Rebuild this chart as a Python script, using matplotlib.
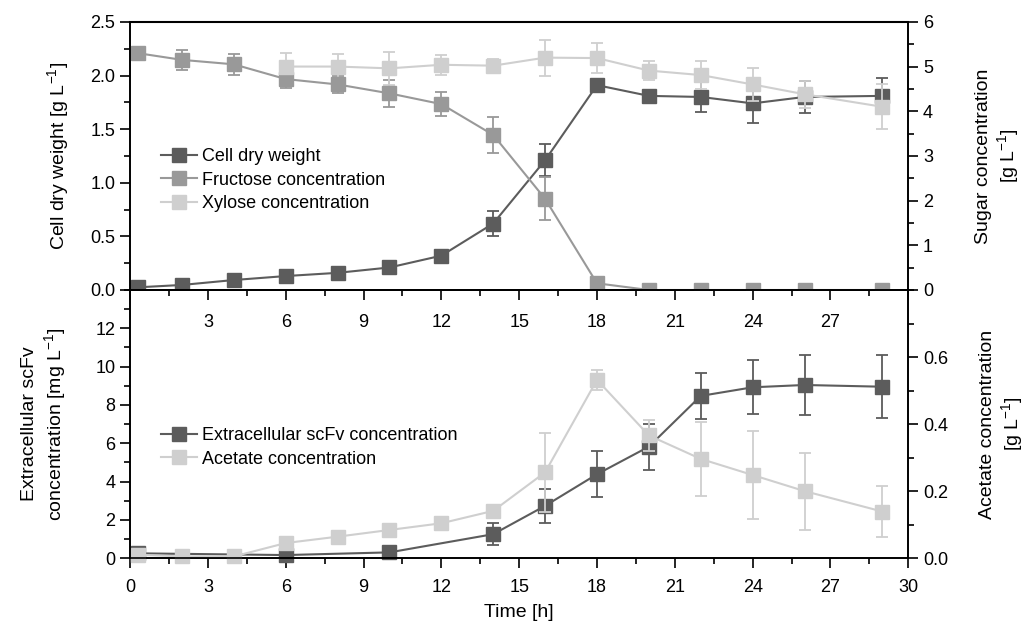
import numpy as np
import matplotlib
matplotlib.use('Agg')
import matplotlib.pyplot as plt
from matplotlib.ticker import MultipleLocator, FixedLocator
from matplotlib.lines import Line2D

plt.rcParams['font.family'] = ['Liberation Sans', 'DejaVu Sans']
plt.rcParams['font.size'] = 13
plt.rcParams['mathtext.fontset'] = 'custom'
plt.rcParams['mathtext.rm'] = 'Liberation Sans'
plt.rcParams['mathtext.default'] = 'regular'

# top panel data
t_top = [0.3, 2, 4, 6, 8, 10, 12, 14, 16, 18, 20, 22, 24, 26, 29]
cdw = [0.025, 0.047, 0.093, 0.13, 0.16, 0.21, 0.32, 0.62, 1.21, 1.91, 1.81, 1.80, 1.74, 1.80, 1.81]
cdw_err = [0.01, 0.01, 0.01, 0.01, 0.01, 0.01, 0.01, 0.12, 0.15, 0.05, 0.05, 0.14, 0.18, 0.15, 0.17]
fructose = [5.30, 5.15, 5.05, 4.72, 4.60, 4.40, 4.16, 3.47, 2.04, 0.15, 0, 0, 0, 0, 0]
fructose_err = [0.02, 0.23, 0.24, 0.2, 0.2, 0.3, 0.27, 0.4, 0.48, 0.06, 0, 0, 0, 0, 0]
t_xyl = [6, 8, 10, 12, 14, 16, 18, 20, 22, 24, 26, 29]
xylose = [5.0, 5.0, 4.96, 5.04, 5.02, 5.2, 5.19, 4.91, 4.81, 4.6, 4.38, 4.1]
xylose_err = [0.3, 0.27, 0.37, 0.22, 0.15, 0.4, 0.33, 0.22, 0.32, 0.36, 0.3, 0.5]

# bottom panel data
t_scfv = [0.3, 6, 10, 14, 16, 18, 20, 22, 24, 26, 29]
scfv = [0.25, 0.16, 0.3, 1.25, 2.73, 4.38, 5.82, 8.47, 8.92, 9.04, 8.95]
scfv_err = [0, 0, 0, 0.57, 0.9, 1.2, 1.2, 1.2, 1.4, 1.56, 1.65]
t_ace = [0.3, 2, 4, 6, 8, 10, 12, 14, 16, 18, 20, 22, 24, 26, 29]
acetate = [0.01, 0.005, 0.005, 0.045, 0.064, 0.084, 0.104, 0.141, 0.256, 0.532, 0.366, 0.296, 0.248, 0.20, 0.139]
acetate_err = [0, 0, 0, 0, 0, 0, 0, 0, 0.117, 0.03, 0.045, 0.11, 0.13, 0.115, 0.075]

dark = '#5c5c5c'
mid = '#999999'
light = '#cfcfcf'

style = dict(marker='s', markersize=10, linewidth=1.5, capsize=4, elinewidth=1.3, capthick=1.3)

fig = plt.figure(figsize=(10.24, 6.25), dpi=100)
ax1 = fig.add_axes([0.127, 0.536, 0.76, 0.429])
ax2 = fig.add_axes([0.127, 0.107, 0.76, 0.429])
ax1r = ax1.twinx()
ax2r = ax2.twinx()

ax1.errorbar(t_top, cdw, yerr=cdw_err, color=dark, **style)
ax1r.errorbar(t_top, fructose, yerr=fructose_err, color=mid, **style)
ax1r.errorbar(t_xyl, xylose, yerr=xylose_err, color=light, **style)

h4 = ax2.errorbar(t_scfv, scfv, yerr=scfv_err, color=dark, **style)
h5 = ax2r.errorbar(t_ace, acetate, yerr=acetate_err, color=light, **style)

for ax in (ax1, ax2, ax1r, ax2r):
    ax.set_xlim(0, 30)
    for s in ax.spines.values():
        s.set_linewidth(1.2)
    ax.tick_params(which='major', length=7, width=1.2, direction='out')
    ax.tick_params(which='minor', length=4, width=1.2, direction='out')

lab = dict(fontsize=14)

# top panel axes
ax1.set_ylim(0, 2.5)
ax1.yaxis.set_major_locator(MultipleLocator(0.5))
ax1.yaxis.set_minor_locator(MultipleLocator(0.25))
ax1.set_ylabel('Cell dry weight [g L$^{-1}$]', labelpad=14, **lab)
ax1r.set_ylim(0, 6)
ax1r.yaxis.set_major_locator(MultipleLocator(1))
ax1r.yaxis.set_minor_locator(MultipleLocator(0.5))
ax1r.set_ylabel('Sugar concentration\n[g L$^{-1}$]', labelpad=30, **lab)
ax1.set_xticks(np.arange(0, 31, 3))
ax1.set_xticklabels(['' if v in (0, 30) else str(v) for v in range(0, 31, 3)])
ax1.xaxis.set_minor_locator(MultipleLocator(1.5))
ax1.tick_params(axis='x', which='major', pad=10)
ax1.spines['top'].set_linewidth(1.5)

# bottom panel axes
ax2.set_ylim(0, 14)
ax2.yaxis.set_major_locator(FixedLocator(np.arange(0, 13, 2)))
ax2.yaxis.set_minor_locator(MultipleLocator(1))
ax2.set_ylabel('Extracellular scFv\nconcentration [mg L$^{-1}$]', labelpad=20, **lab)
ax2r.set_ylim(0, 0.8)
ax2r.yaxis.set_major_locator(FixedLocator([0, 0.2, 0.4, 0.6]))
ax2r.set_yticklabels(['0.0', '0.2', '0.4', '0.6'])
ax2r.yaxis.set_minor_locator(MultipleLocator(0.1))
ax2r.set_ylabel('Acetate concentration\n[g L$^{-1}$]', labelpad=22, **lab)
ax2.set_xticks(np.arange(0, 31, 3))
ax2.xaxis.set_minor_locator(MultipleLocator(1.5))
ax2.tick_params(axis='x', which='major', pad=8)
ax2.set_xlabel('Time [h]', labelpad=6, **lab)
ax2.patch.set_alpha(0)
ax2r.patch.set_alpha(0)

for c in h5.get_children() + h4.get_children():
    c.set_clip_on(False)


def handle(color):
    return Line2D([], [], color=color, marker='s', markersize=10, linewidth=1.5)


ax1r.legend([handle(dark), handle(mid), handle(light)],
            ['Cell dry weight', 'Fructose concentration', 'Xylose concentration'],
            loc='upper left', bbox_to_anchor=(0.03, 0.555), frameon=False, handlelength=2.0,
            handletextpad=0.3, labelspacing=0.35, borderaxespad=0)
ax2r.legend([handle(dark), handle(light)],
            ['Extracellular scFv concentration', 'Acetate concentration'],
            loc='upper left', bbox_to_anchor=(0.03, 0.515), frameon=False, handlelength=2.0,
            handletextpad=0.3, labelspacing=0.35, borderaxespad=0)

fig.savefig('out.png', dpi=100)
